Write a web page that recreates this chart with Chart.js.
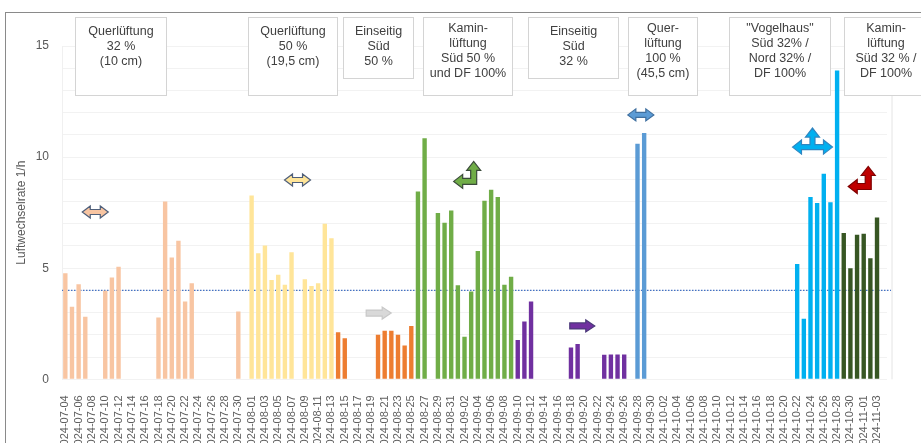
<!DOCTYPE html>
<html lang="de">
<head>
<meta charset="utf-8">
<title>Luftwechselrate</title>
<script src="https://cdn.jsdelivr.net/npm/chart.js@4.4.1/dist/chart.umd.min.js"></script>
<style>
  html, body { margin: 0; padding: 0; background: #fff; overflow: hidden; }
  #wrap { position: relative; width: 921px; height: 460px; }
  #frame { position: absolute; left: 5px; top: 12px; width: 1000px; height: 1000px;
           border-left: 1px solid #8a8a8a; border-top: 1px solid #8a8a8a; pointer-events: none; }
</style>
</head>
<body>
<div id="wrap">
  <canvas id="c"></canvas>
  <div id="frame"></div>
</div>
<script>
// days 2024-07-04 .. 2024-11-04 (last one is an empty slot)
const months = [['07', 4, 31], ['08', 1, 31], ['09', 1, 30], ['10', 1, 31], ['11', 1, 4]];
const days = [];
months.forEach(([m, a, b]) => {
  for (let d = a; d <= b; d++) days.push('2024-' + m + '-' + String(d).padStart(2, '0'));
});

// air change rate 1/h per day (null = no measurement)
const rate = [
  4.77, 3.27, 4.28, 2.82, null, null, 3.98, 4.58, 5.07, null,
  null, null, null, null, 2.78, 8.0, 5.48, 6.23, 3.5, 4.32,
  null, null, null, null, null, null, 3.05, null, 8.27, 5.67,
  6.02, 4.47, 4.7, 4.25, 5.72, null, 4.5, 4.2, 4.32, 7.0,
  6.35, 2.12, 1.85, null, null, null, null, 2.0, 2.19, 2.18,
  2.0, 1.52, 2.4, 8.45, 10.85, null, 7.48, 7.05, 7.6, 4.23,
  1.92, 3.95, 5.77, 8.03, 8.53, 8.2, 4.25, 4.62, 1.77, 2.6,
  3.5, null, null, null, null, null, 1.43, 1.59, null, null,
  null, 1.1, 1.12, 1.12, 1.12, null, 10.6, 11.08, null, null,
  null, null, null, null, null, null, null, null, null, null,
  null, null, null, null, null, null, null, null, null, null,
  5.19, 2.72, 8.2, 7.93, 9.25, 7.97, 13.9, 6.58, 5.0, 6.5,
  6.55, 5.45, 7.28, null
];

// phases: first day index and colour
const phaseStart = [0, 28, 41, 53, 68, 86, 110, 117];
const phaseColor = ['#f8c5a2', '#ffe599', '#ed7d31', '#70ad47', '#7030a0', '#5b9bd5', '#00b0f0', '#375623'];

const targetRate = 4;

// text boxes (x in day index, y in 1/h)
const notes = [
  { x0: 1.5, x1: 15.2, y0: 16.3, y1: 12.8, lines: ['Querlüftung', '32 %', '(10 cm)'] },
  { x0: 27.5, x1: 40.9, y0: 16.3, y1: 12.8, lines: ['Querlüftung', '50 %', '(19,5 cm)'] },
  { x0: 41.8, x1: 52.3, y0: 16.3, y1: 13.56, lines: ['Einseitig', 'Süd', '50 %'] },
  { x0: 53.8, x1: 67.1, y0: 16.3, y1: 12.8, lines: ['Kamin-', 'lüftung', 'Süd 50 %', 'und DF 100%'] },
  { x0: 69.6, x1: 83.0, y0: 16.3, y1: 13.56, lines: ['Einseitig', 'Süd', '32 %'] },
  { x0: 84.5, x1: 94.9, y0: 16.3, y1: 12.8, lines: ['Quer-', 'lüftung', '100 %', '(45,5 cm)'] },
  { x0: 99.7, x1: 114.9, y0: 16.3, y1: 12.8, lines: ['"Vogelhaus"', 'Süd 32% /', 'Nord 32% /', 'DF 100%'] },
  { x0: 117.1, x1: 129.5, y0: 16.3, y1: 12.8, lines: ['Kamin-', 'lüftung', 'Süd 32 % /', 'DF 100%'] }
];

// arrow symbols (x in day index, y in 1/h)
const arrows = [
  { x: 4.5, y: 7.53, kind: 'double', fill: '#f8c5a2', stroke: '#4f5f7a' },
  { x: 34.9, y: 8.97, kind: 'double', fill: '#ffe599', stroke: '#4f5f7a' },
  { x: 60.4, y: 9.2, kind: 'corner', fill: '#70ad47', stroke: '#3a4a3a' },
  { x: 47.1, y: 2.98, kind: 'right', fill: '#d9d9d9', stroke: '#c8c8c8' },
  { x: 77.7, y: 2.4, kind: 'right', fill: '#7030a0', stroke: '#4b3a7a' },
  { x: 86.5, y: 11.9, kind: 'double', fill: '#5b9bd5', stroke: '#3f6f9f' },
  { x: 112.3, y: 10.45, kind: 'tee', fill: '#00b0f0', stroke: '#2e86c1' },
  { x: 119.7, y: 8.97, kind: 'corner', fill: '#c00000', stroke: '#7f0000' }
];

function barColor(i) {
  let c = phaseColor[0];
  phaseStart.forEach((s, k) => { if (i >= s) c = phaseColor[k]; });
  return c;
}

function poly(ctx, pts, fill, stroke) {
  ctx.beginPath();
  pts.forEach((p, k) => k ? ctx.lineTo(p[0], p[1]) : ctx.moveTo(p[0], p[1]));
  ctx.closePath();
  ctx.fillStyle = fill;
  ctx.fill();
  ctx.lineWidth = 1.2;
  ctx.strokeStyle = stroke;
  ctx.stroke();
}

function drawArrow(ctx, a, cx, cy) {
  if (a.kind === 'double') {
    const w = 26, hl = 8, hw = 6, t = 5;
    const x0 = cx - w / 2, x1 = cx + w / 2;
    poly(ctx, [[x0, cy], [x0 + hl, cy - hw], [x0 + hl, cy - t / 2], [x1 - hl, cy - t / 2], [x1 - hl, cy - hw],
      [x1, cy], [x1 - hl, cy + hw], [x1 - hl, cy + t / 2], [x0 + hl, cy + t / 2], [x0 + hl, cy + hw]], a.fill, a.stroke);
  } else if (a.kind === 'right') {
    const w = 25, hl = 9, hw = 6, t = 6;
    const x0 = cx - w / 2, x1 = cx + w / 2;
    poly(ctx, [[x0, cy - t / 2], [x1 - hl, cy - t / 2], [x1 - hl, cy - hw], [x1, cy], [x1 - hl, cy + hw],
      [x1 - hl, cy + t / 2], [x0, cy + t / 2]], a.fill, a.stroke);
  } else if (a.kind === 'corner') {
    const w = 27, hl = 9, hw = 7, t = 6;
    const x0 = cx - w / 2, y0 = cy - w / 2, yb = cy + w / 2 - hw, xr = cx + w / 2 - hw;
    poly(ctx, [[x0, yb], [x0 + hl, yb - hw], [x0 + hl, yb - t / 2], [xr - t / 2, yb - t / 2], [xr - t / 2, y0 + hl],
      [xr - hw, y0 + hl], [xr, y0], [xr + hw, y0 + hl], [xr + t / 2, y0 + hl], [xr + t / 2, yb + t / 2],
      [x0 + hl, yb + t / 2], [x0 + hl, yb + hw]], a.fill, a.stroke);
  } else if (a.kind === 'tee') {
    const w = 40, hl = 9, hw = 7, t = 5, up = 19;
    const x0 = cx - w / 2, x1 = cx + w / 2, y0 = cy - up;
    poly(ctx, [[x0, cy], [x0 + hl, cy - hw], [x0 + hl, cy - t / 2], [cx - t / 2, cy - t / 2], [cx - t / 2, y0 + hl],
      [cx - hw, y0 + hl], [cx, y0], [cx + hw, y0 + hl], [cx + t / 2, y0 + hl], [cx + t / 2, cy - t / 2],
      [x1 - hl, cy - t / 2], [x1 - hl, cy - hw], [x1, cy], [x1 - hl, cy + hw], [x1 - hl, cy + t / 2],
      [x0 + hl, cy + t / 2], [x0 + hl, cy + hw]], a.fill, a.stroke);
  }
}

const extras = {
  id: 'extras',
  beforeDatasetsDraw(chart) {
    const { ctx, chartArea, scales: { x, y } } = chart;
    const yy = y.getPixelForValue(targetRate);
    ctx.save();
    ctx.strokeStyle = '#4472c4';
    ctx.lineWidth = 1.3;
    ctx.setLineDash([1.5, 1.5]);
    ctx.beginPath();
    ctx.moveTo(chartArea.left, yy);
    ctx.lineTo(chartArea.right + 4, yy);
    ctx.stroke();
    ctx.setLineDash([]);
    ctx.strokeStyle = '#e4e4e4';
    ctx.lineWidth = 1;
    ctx.beginPath();
    ctx.moveTo(chartArea.right + 5, y.getPixelForValue(12.8));
    ctx.lineTo(chartArea.right + 5, chartArea.bottom);
    ctx.stroke();
    ctx.restore();
  },
  afterDatasetsDraw(chart) {
    const { ctx, scales: { x, y } } = chart;
    const step = x.getPixelForValue(1) - x.getPixelForValue(0);
    const px = v => x.getPixelForValue(0) + v * step;
    ctx.save();
    notes.forEach(n => {
      const l = Math.round(px(n.x0)) + 0.5, r = Math.round(px(n.x1)) + 0.5;
      const t = Math.round(y.getPixelForValue(n.y0)) + 0.5, b = Math.round(y.getPixelForValue(n.y1)) + 0.5;
      ctx.fillStyle = '#fff';
      ctx.fillRect(l, t, r - l, b - t);
      ctx.strokeStyle = '#d4d4d4';
      ctx.lineWidth = 1;
      ctx.strokeRect(l, t, r - l, b - t);
      ctx.fillStyle = '#404040';
      ctx.font = '12.5px "Liberation Sans", Arial, sans-serif';
      ctx.textAlign = 'center';
      ctx.textBaseline = 'middle';
      const first = n.lines.length === 4 ? 11.5 : 14.5;
      n.lines.forEach((s, k) => ctx.fillText(s, (l + r) / 2, t + first + k * 15));
    });
    arrows.forEach(a => drawArrow(ctx, a, px(a.x), y.getPixelForValue(a.y)));
    ctx.restore();
  }
};

new Chart(document.getElementById('c'), {
  type: 'bar',
  data: {
    labels: days,
    datasets: [{
      label: 'Luftwechselrate',
      data: rate,
      backgroundColor: days.map((d, i) => barColor(i)),
      barPercentage: 0.66,
      categoryPercentage: 1
    }]
  },
  options: {
    responsive: true,
    maintainAspectRatio: false,
    animation: false,
    layout: { padding: { top: 46, right: 34, left: 10, bottom: 0 } },
    plugins: { legend: { display: false }, tooltip: { enabled: false } },
    scales: {
      x: {
        grid: { display: false },
        border: { display: false },
        ticks: {
          autoSkip: false,
          minRotation: 90,
          maxRotation: 90,
          padding: 8,
          color: '#5f5f5f',
          font: { family: '"Liberation Sans", Arial, sans-serif', size: 11 },
          callback: function (v, i) { return i % 2 === 0 ? this.getLabelForValue(v) : null; }
        },
        afterFit: s => { s.height = 460 - 379.3; }
      },
      y: {
        min: 0,
        max: 15,
        grid: { color: '#f2f2f2', drawTicks: false },
        border: { display: true, color: '#f0f0f0' },
        ticks: {
          stepSize: 1,
          padding: 13,
          color: '#595959',
          font: { family: '"Liberation Sans", Arial, sans-serif', size: 12 },
          callback: v => (v % 5 === 0 ? v : '')
        },
        title: {
          display: true,
          text: 'Luftwechselrate 1/h',
          color: '#595959',
          padding: { top: 4, bottom: 0 },
          font: { family: '"Liberation Sans", Arial, sans-serif', size: 12 }
        },
        afterFit: s => { s.width = 52; }
      }
    }
  },
  plugins: [extras]
});
</script>
</body>
</html>
